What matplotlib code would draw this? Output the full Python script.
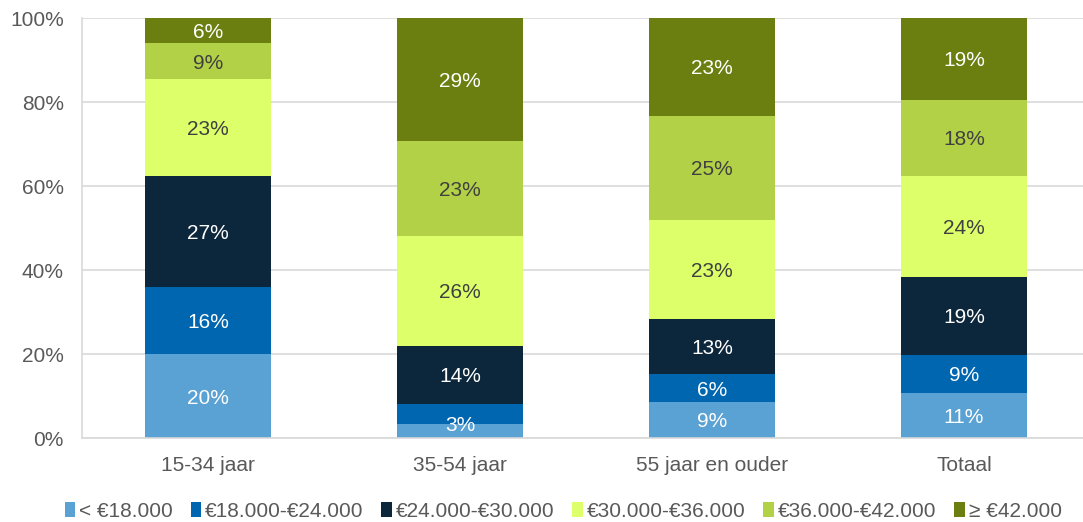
import numpy as np
import matplotlib
matplotlib.use("Agg")
import matplotlib.pyplot as plt
from matplotlib.patches import Patch

plt.rcParams['font.family'] = ['Liberation Sans', 'DejaVu Sans']

# categories and the income classes
groups = ['15-34 jaar', '35-54 jaar', '55 jaar en ouder', 'Totaal']
classes = ['< €18.000', '€18.000-€24.000', '€24.000-€30.000',
           '€30.000-€36.000', '€36.000-€42.000', '≥ €42.000']

# shares per class, one list per class
lt18 = [20.0, 3.3, 8.6, 10.7]
s18_24 = [16.0, 4.8, 6.6, 9.1]
s24_30 = [26.4, 13.8, 13.1, 18.5]
s30_36 = [23.1, 26.2, 23.6, 24.1]
s36_42 = [8.5, 22.6, 24.8, 18.1]
ge42 = [6.0, 29.3, 23.3, 19.5]

# data labels as printed on the bars ('' = no label shown)
lab_lt18 = ['20%', '3%', '9%', '11%']
lab_18_24 = ['16%', '', '6%', '9%']
lab_24_30 = ['27%', '14%', '13%', '19%']
lab_30_36 = ['23%', '26%', '23%', '24%']
lab_36_42 = ['9%', '23%', '25%', '18%']
lab_ge42 = ['6%', '29%', '23%', '19%']

series = [lt18, s18_24, s24_30, s30_36, s36_42, ge42]
labels = [lab_lt18, lab_18_24, lab_24_30, lab_30_36, lab_36_42, lab_ge42]
colors = ['#5AA1D4', '#0066B0', '#0C263B', '#DDFF6A', '#B3D147', '#6A7F0F']
text_colors = ['white', 'white', 'white', '#404040', '#404040', 'white']

fig = plt.figure(figsize=(10.83, 5.22), dpi=100)
ax = fig.add_axes([82 / 1083, 84 / 522, 1 - 82 / 1083, 420 / 522])

x = np.arange(len(groups))
bottom = np.zeros(len(groups))
for vals, labs, c, tc in zip(series, labels, colors, text_colors):
    vals = np.array(vals)
    ax.bar(x, vals, 0.5, bottom=bottom, color=c, zorder=2)
    for xi, b, v, t in zip(x, bottom, vals, labs):
        if t:
            # keep tiny labels inside the plot, like Excel does
            ypos = max(b + v / 2, 3.4)
            ax.text(xi, ypos, t, ha='center', va='center_baseline',
                    color=tc, fontsize=15, zorder=3)
    bottom += vals

ax.set_xlim(-0.5, 3.472)
ax.set_ylim(0, 100)
ax.set_yticks(np.arange(0, 101, 20))
ax.set_yticklabels([f'{v}%' for v in range(0, 101, 20)])
ax.set_xticks(x)
ax.set_xticklabels(groups)
ax.tick_params(axis='both', length=0, labelsize=15, colors='#595959')
ax.tick_params(axis='y', pad=13)
ax.tick_params(axis='x', pad=13)
ax.yaxis.grid(True, color='#D9D9D9', linewidth=1.2, zorder=0)
for s in ['top', 'right']:
    ax.spines[s].set_visible(False)
ax.spines['left'].set_color('#D9D9D9')
ax.spines['bottom'].set_color('#D9D9D9')
ax.spines['left'].set_linewidth(1.2)
ax.spines['bottom'].set_linewidth(1.2)

handles = [Patch(facecolor=c) for c in colors]
fig.legend(handles, classes, loc='center', bbox_to_anchor=(0.52, 0.021),
           ncol=6, frameon=False, fontsize=15, handlelength=0.5,
           handleheight=0.7, handletextpad=0.2, columnspacing=0.85,
           labelcolor='#595959')

fig.savefig('out.png', dpi=100)
